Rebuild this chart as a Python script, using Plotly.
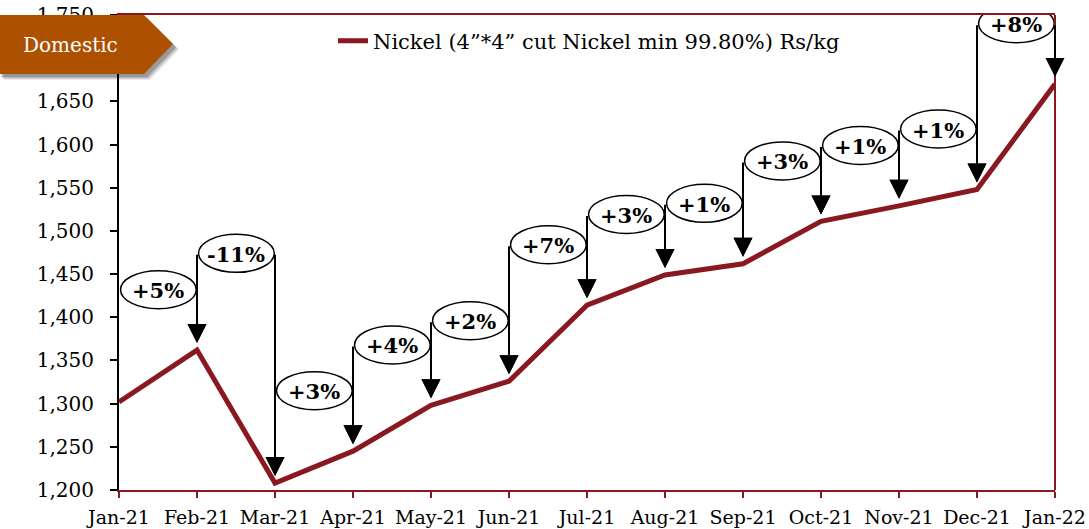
import plotly.graph_objects as go

months = ["Jan-21", "Feb-21", "Mar-21", "Apr-21", "May-21", "Jun-21", "Jul-21",
          "Aug-21", "Sep-21", "Oct-21", "Nov-21", "Dec-21", "Jan-22"]
prices = [1302, 1362, 1208, 1245, 1298, 1326, 1414, 1449, 1462, 1511, 1529, 1548, 1670]
change_labels = ["+5%", "-11%", "+3%", "+4%", "+2%", "+7%", "+3%", "+1%", "+3%", "+1%", "+1%", "+8%"]
series_name = "Nickel (4\u201d*4\u201d cut Nickel min 99.80%) Rs/kg"
y_ticks = list(range(1200, 1751, 50))

LINE_RED = "#8A1820"
FONT = "DejaVu Serif"
W, H = 1089, 529
L, R, T, B = 119, 34, 15, 39
PW, PH = W - L - R, H - T - B

def px(xp):
    return (xp - L) / PW

def py(yp):
    return (H - B - yp) / PH

x_idx = list(range(len(months)))

fig = go.Figure()
fig.add_trace(go.Scatter(
    x=x_idx, y=prices, mode="lines", name=series_name,
    line=dict(color=LINE_RED, width=5), showlegend=True, hoverinfo="skip",
))

shapes = []
annotations = []
for i, lab in enumerate(change_labels):
    off = 112 if i == 1 else 70
    ly = max(prices[i], prices[i + 1]) + off
    if i > 0:
        annotations.append(dict(
            x=i, y=prices[i], ax=i, ay=ly, xref="x", yref="y", axref="x", ayref="y",
            text="", showarrow=True, arrowhead=2, arrowsize=1.9, arrowwidth=2,
            arrowcolor="black", standoff=7))
    annotations.append(dict(
        x=i + 1, y=prices[i + 1], ax=i + 1, ay=ly, xref="x", yref="y", axref="x", ayref="y",
        text="", showarrow=True, arrowhead=2, arrowsize=1.9, arrowwidth=2,
        arrowcolor="black", standoff=7))
    shapes.append(dict(
        type="circle", xref="x", yref="y", ysizemode="pixel", yanchor=ly,
        x0=i + 0.02, x1=i + 0.99, y0=-19, y1=19,
        fillcolor="white", line=dict(color="black", width=1.5), layer="above"))
    annotations.append(dict(
        x=i + 0.505, y=ly, xref="x", yref="y", text="<b>%s</b>" % lab, showarrow=False,
        xanchor="center", yanchor="middle",
        font=dict(family=FONT, size=21, color="black"), yshift=-1))

shapes.append(dict(type="line", xref="paper", yref="paper", x0=1, x1=1, y0=0, y1=1,
                   line=dict(color=LINE_RED, width=2), layer="above"))

def tag_path(dx=0, dy=0):
    pts = [(-2, 15), (144, 15), (173, 44), (144, 74), (-2, 74)]
    s = ""
    for k, (a, b) in enumerate(pts):
        s += ("M" if k == 0 else "L") + "%.5f,%.5f " % (px(a + dx), py(b + dy))
    return s + "Z"

for d, op in [(6, 0.08), (5, 0.10), (4, 0.13), (3, 0.16)]:
    shapes.append(dict(type="path", xref="paper", yref="paper", path=tag_path(d, d),
                       fillcolor="rgba(0,0,0,%.2f)" % op, line=dict(width=0), layer="above"))
shapes.append(dict(type="path", xref="paper", yref="paper", path=tag_path(),
                   fillcolor="#AD5000", line=dict(width=0), layer="above"))
annotations.append(dict(x=px(70), y=py(45), xref="paper", yref="paper", text="Domestic",
                        xanchor="center", yanchor="middle", showarrow=False,
                        font=dict(family=FONT, size=20, color="white")))

fig.update_layout(
    width=W, height=H,
    margin=dict(l=L, r=R, t=T, b=B, autoexpand=False),
    paper_bgcolor="white", plot_bgcolor="white",
    font=dict(family=FONT, size=18, color="black"),
    showlegend=True,
    legend=dict(x=px(333), y=py(41), xanchor="left", yanchor="middle",
                bgcolor="rgba(0,0,0,0)", font=dict(family=FONT, size=21, color="black")),
    xaxis=dict(range=[0, 12], tickvals=x_idx, ticktext=months, showgrid=False, zeroline=False,
               showline=True, linecolor=LINE_RED, linewidth=2, mirror=True, automargin=False,
               ticks="outside", ticklen=6, tickcolor=LINE_RED, tickwidth=2,
               ticklabelstandoff=3,
               tickfont=dict(family=FONT, size=19)),
    yaxis=dict(range=[1200, 1750], tickvals=y_ticks, tickformat=",d", showgrid=False,
               zeroline=False, showline=True, linecolor="black", linewidth=2, automargin=False,
               ticks="outside", ticklen=7, tickcolor="black", tickwidth=2,
               ticklabelstandoff=12,
               tickfont=dict(family=FONT, size=20)),
    shapes=shapes, annotations=annotations,
)

fig.write_html("out.html", config={"displayModeBar": False},
               post_script="document.body.style.margin='0';")
